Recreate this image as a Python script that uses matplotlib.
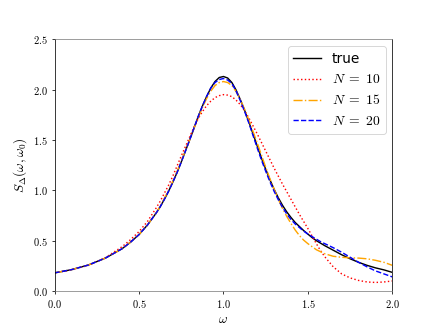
import matplotlib
matplotlib.use('Agg')
import matplotlib.pyplot as plt
from matplotlib.ticker import FuncFormatter
import numpy as np

plt.rcParams['mathtext.fontset'] = 'cm'
plt.rcParams['font.size'] = 14

# omega grid: coarse on the flat wings, finer around the peak
omega = np.round(np.concatenate([[0, 0.1, 0.2, 0.3, 0.4, 0.45, 0.5, 0.55],
                                 np.arange(0.6, 1.6001, 0.025),
                                 np.arange(1.65, 2.0001, 0.05)]), 3)

# values
s_true = [0.18, 0.212, 0.258, 0.326, 0.42, 0.485, 0.56, 0.655,
          0.77, 0.835, 0.91, 0.99, 1.08, 1.175, 1.28, 1.39, 1.50, 1.615,
          1.73, 1.835, 1.93, 2.015, 2.08, 2.12, 2.13, 2.115, 2.07, 1.995,
          1.90, 1.795, 1.68, 1.56, 1.44, 1.32, 1.21, 1.105, 1.01, 0.925,
          0.85, 0.785, 0.73, 0.68, 0.64, 0.60, 0.565, 0.53, 0.50, 0.475,
          0.45,
          0.405, 0.36, 0.32, 0.285, 0.255, 0.23, 0.21, 0.185]

s_n10 = [0.18, 0.21, 0.255, 0.33, 0.44, 0.51, 0.59, 0.69,
         0.82, 0.89, 0.97, 1.05, 1.14, 1.24, 1.34, 1.435, 1.53, 1.625,
         1.71, 1.78, 1.84, 1.885, 1.92, 1.94, 1.95, 1.945, 1.93, 1.895,
         1.85, 1.79, 1.72, 1.64, 1.56, 1.475, 1.39, 1.305, 1.22, 1.14,
         1.06, 0.985, 0.91, 0.835, 0.76, 0.69, 0.62, 0.545, 0.47, 0.40,
         0.34,
         0.24, 0.17, 0.13, 0.105, 0.09, 0.085, 0.09, 0.10]

s_n15 = [0.18, 0.212, 0.258, 0.326, 0.42, 0.485, 0.56, 0.655,
         0.77, 0.84, 0.92, 1.00, 1.09, 1.185, 1.29, 1.395, 1.50, 1.61,
         1.72, 1.82, 1.91, 1.985, 2.04, 2.07, 2.08, 2.07, 2.04, 1.98,
         1.90, 1.805, 1.70, 1.585, 1.47, 1.35, 1.23, 1.115, 1.01, 0.91,
         0.82, 0.74, 0.67, 0.605, 0.55, 0.505, 0.47, 0.44, 0.41, 0.39,
         0.37,
         0.345, 0.335, 0.33, 0.327, 0.32, 0.305, 0.285, 0.255]

s_n20 = [0.18, 0.212, 0.258, 0.326, 0.42, 0.485, 0.56, 0.655,
         0.77, 0.835, 0.91, 0.99, 1.08, 1.175, 1.28, 1.39, 1.50, 1.615,
         1.73, 1.835, 1.93, 2.015, 2.07, 2.10, 2.11, 2.095, 2.06, 1.985,
         1.89, 1.785, 1.67, 1.545, 1.42, 1.30, 1.19, 1.085, 0.99, 0.905,
         0.83, 0.765, 0.71, 0.665, 0.63, 0.595, 0.565, 0.54, 0.515, 0.49,
         0.47,
         0.43, 0.385, 0.335, 0.285, 0.24, 0.20, 0.17, 0.14]

fig, ax = plt.subplots(figsize=(6.4, 4.8), dpi=68.125)

ax.plot(omega, s_true, color='black', lw=1.5, label='true')
ax.plot(omega, s_n10, color='red', ls=':', lw=1.5, label=r'$N\;=\;\mathsf{10}$')
ax.plot(omega, s_n15, color='orange', ls='-.', lw=1.5, label=r'$N\;=\;\mathsf{15}$')
ax.plot(omega, s_n20, color='blue', ls='--', lw=1.5, label=r'$N\;=\;\mathsf{20}$')

ax.set_xlim(0, 2)
ax.set_ylim(0, 2.5)
ax.set_xticks([0, 0.5, 1.0, 1.5, 2.0])
ax.set_yticks([0, 0.5, 1.0, 1.5, 2.0, 2.5])
fmt = FuncFormatter(lambda v, p: r'$%.1f$' % v)
ax.xaxis.set_major_formatter(fmt)
ax.yaxis.set_major_formatter(fmt)
ax.tick_params(labelsize=11)

ax.spines['top'].set_color('gray')
ax.spines['bottom'].set_color('gray')

ax.set_xlabel(r'$\omega$')
ax.set_ylabel(r'$S_\Delta(\omega,\omega_0)$')
ax.legend(loc='upper right', fontsize=14.5)

fig.savefig('out.png')
